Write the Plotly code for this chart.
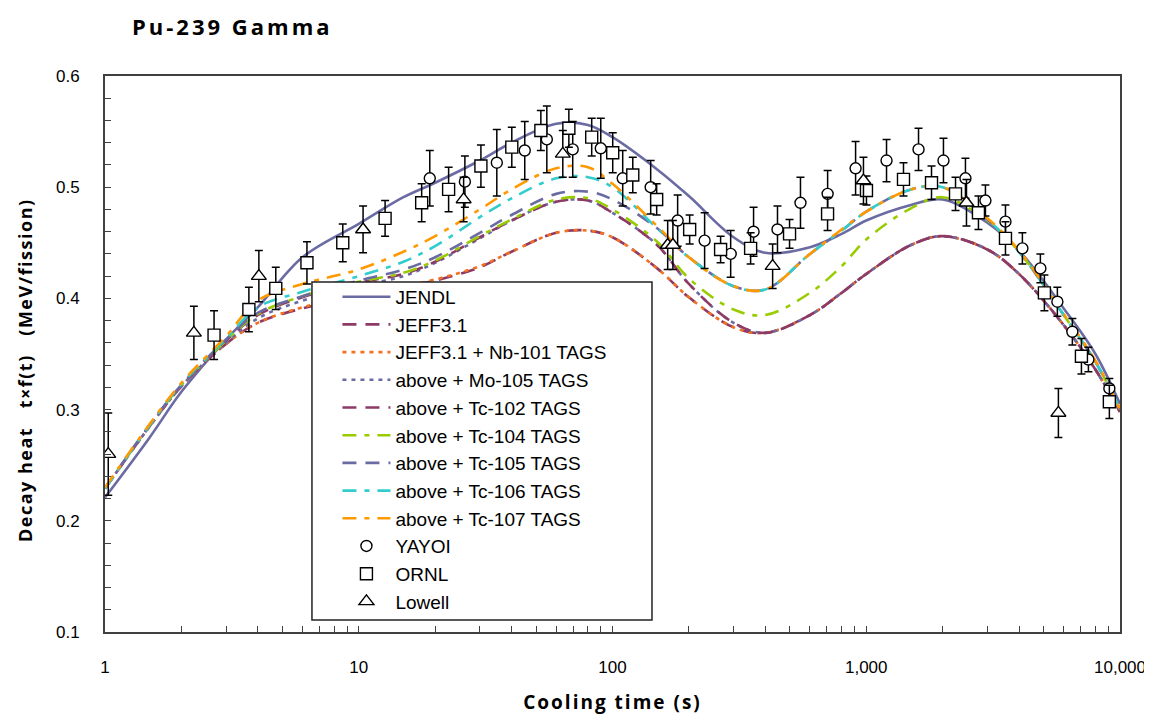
import plotly.graph_objects as go

# ---------------- data ----------------
t_grid = [1, 1.5, 2, 3, 4, 6, 10, 15, 20, 30, 40, 60, 80, 100, 150, 200, 300,
          400, 600, 800, 1000, 1500, 2000, 3000, 4000, 6000, 8000, 10000]

jendl = [0.221, 0.275, 0.316, 0.363, 0.392, 0.437, 0.467, 0.491, 0.504, 0.524,
         0.540, 0.557, 0.556, 0.545, 0.516, 0.492, 0.455, 0.441, 0.446, 0.458,
         0.470, 0.484, 0.489, 0.468, 0.443, 0.391, 0.350, 0.305]
jeff31 = [0.229, 0.285, 0.321, 0.359, 0.378, 0.391, 0.402, 0.410, 0.416, 0.428,
          0.442, 0.459, 0.461, 0.455, 0.427, 0.401, 0.374, 0.369, 0.385, 0.405,
          0.422, 0.448, 0.456, 0.444, 0.422, 0.376, 0.336, 0.298]
nb101 = [0.229, 0.285, 0.321, 0.359, 0.378, 0.392, 0.403, 0.411, 0.417, 0.429,
         0.442, 0.459, 0.461, 0.455, 0.427, 0.401, 0.374, 0.369, 0.385, 0.405,
         0.422, 0.448, 0.456, 0.444, 0.422, 0.376, 0.336, 0.298]
mo105 = [0.229, 0.285, 0.321, 0.360, 0.382, 0.398, 0.411, 0.420, 0.432, 0.454,
         0.470, 0.487, 0.488, 0.477, 0.448, 0.413, 0.378, 0.369, 0.385, 0.405,
         0.422, 0.448, 0.456, 0.444, 0.422, 0.376, 0.336, 0.298]
tc102 = [0.229, 0.286, 0.322, 0.362, 0.385, 0.401, 0.414, 0.422, 0.433, 0.455,
         0.470, 0.487, 0.488, 0.477, 0.448, 0.413, 0.378, 0.369, 0.385, 0.405,
         0.422, 0.448, 0.456, 0.444, 0.422, 0.376, 0.336, 0.298]
tc104 = [0.229, 0.286, 0.322, 0.362, 0.386, 0.402, 0.415, 0.423, 0.434, 0.456,
         0.471, 0.489, 0.490, 0.480, 0.451, 0.418, 0.390, 0.385, 0.405, 0.429,
         0.453, 0.481, 0.491, 0.470, 0.442, 0.385, 0.343, 0.300]
tc105 = [0.229, 0.286, 0.322, 0.363, 0.387, 0.402, 0.416, 0.426, 0.437, 0.459,
         0.475, 0.494, 0.496, 0.489, 0.463, 0.437, 0.411, 0.408, 0.440, 0.461,
         0.478, 0.498, 0.500, 0.471, 0.442, 0.385, 0.343, 0.300]
tc106 = [0.229, 0.286, 0.323, 0.364, 0.392, 0.406, 0.420, 0.433, 0.447, 0.473,
         0.490, 0.508, 0.509, 0.500, 0.463, 0.437, 0.411, 0.408, 0.440, 0.461,
         0.478, 0.498, 0.500, 0.471, 0.442, 0.385, 0.343, 0.300]
tc107 = [0.230, 0.287, 0.324, 0.366, 0.398, 0.413, 0.426, 0.442, 0.456, 0.480,
         0.498, 0.517, 0.518, 0.503, 0.465, 0.437, 0.411, 0.408, 0.440, 0.462,
         0.478, 0.498, 0.500, 0.472, 0.443, 0.386, 0.344, 0.300]

yayoi_t = [19.05, 26.2, 35.0, 45.1, 55.1, 69.7, 89.9, 109.7, 141.4, 180.6, 230.7,
           292.2, 359.7, 446.9, 550.5, 704.3, 907.8, 1202, 1607, 2015, 2460,
           2949, 3537, 4124, 4855, 5665, 6490, 7508, 9080]
yayoi_v = [0.508, 0.505, 0.522, 0.533, 0.543, 0.534, 0.535, 0.508, 0.500, 0.470,
           0.452, 0.440, 0.460, 0.462, 0.486, 0.494, 0.517, 0.524, 0.534, 0.524,
           0.508, 0.488, 0.469, 0.445, 0.427, 0.397, 0.370, 0.345, 0.319]
yayoi_e = [0.025, 0.023, 0.030, 0.026, 0.030, 0.025, 0.027, 0.025, 0.024, 0.023,
           0.025, 0.021, 0.022, 0.021, 0.023, 0.021, 0.024, 0.019, 0.019, 0.020,
           0.018, 0.014, 0.015, 0.014, 0.013, 0.013, 0.012, 0.011, 0.009]

ornl_t = [2.69, 3.69, 4.71, 6.25, 8.65, 12.7, 17.7, 22.6, 30.3, 40.1, 52.2, 67.3,
          82.8, 100.2, 120.2, 149.3, 201.4, 266.7, 350.2, 498.6, 704, 1002,
          1402, 1808, 2248, 2768, 3537, 5036, 7047, 9080]
ornl_v = [0.367, 0.390, 0.409, 0.432, 0.450, 0.472, 0.486, 0.498, 0.519, 0.536,
          0.551, 0.553, 0.545, 0.531, 0.511, 0.489, 0.462, 0.444, 0.445, 0.458,
          0.476, 0.497, 0.507, 0.504, 0.494, 0.477, 0.454, 0.405, 0.348, 0.307]
ornl_e = [0.022, 0.020, 0.019, 0.019, 0.017, 0.016, 0.017, 0.020, 0.019, 0.018,
          0.018, 0.017, 0.017, 0.018, 0.016, 0.014, 0.013, 0.012, 0.014, 0.013,
          0.015, 0.013, 0.015, 0.015, 0.015, 0.015, 0.015, 0.016, 0.016, 0.015]

lowell_t = [1.03, 2.24, 4.04, 10.4, 25.9, 63.7, 165, 173, 427.6, 975, 2483, 5718]
lowell_v = [0.260, 0.369, 0.420, 0.462, 0.489, 0.530, 0.448, 0.448, 0.429, 0.506,
            0.486, 0.297]
lowell_e = [0.037, 0.024, 0.023, 0.021, 0.020, 0.021, 0.022, 0.022, 0.020, 0.021,
            0.021, 0.022]

x_tickvals = [1, 10, 100, 1000, 10000]
x_ticktext = ["1", "10", "100", "1,000", "10,000"]

# ---------------- styles ----------------
SLATE = "#6B6BA3"
MAROON = "#8E3A66"
ORANGE_RED = "#F2701F"
GREEN = "#99CC00"
CYAN = "#33CCCC"
ORANGE = "#FF9900"

curves = [
    ("JENDL", jendl, SLATE, "solid"),
    ("JEFF3.1", jeff31, MAROON, "14px,9px"),
    ("JEFF3.1 + Nb-101 TAGS", nb101, ORANGE_RED, "4px,5px"),
    ("above + Mo-105 TAGS", mo105, SLATE, "4px,5px"),
    ("above + Tc-102 TAGS", tc102, MAROON, "14px,9px"),
    ("above + Tc-104 TAGS", tc104, GREEN, "14px,8px,5px,8px"),
    ("above + Tc-105 TAGS", tc105, SLATE, "14px,9px"),
    ("above + Tc-106 TAGS", tc106, CYAN, "14px,8px,5px,8px"),
    ("above + Tc-107 TAGS", tc107, ORANGE, "14px,8px,5px,8px"),
]

fig = go.Figure()
for name, vals, col, dash in curves:
    fig.add_trace(go.Scatter(
        x=t_grid, y=vals, name=name, mode="lines",
        line=dict(color=col, width=2.6, dash=dash, shape="spline", smoothing=1.0),
    ))

marker_sets = [
    ("YAYOI", yayoi_t, yayoi_v, yayoi_e, "circle", 11),
    ("ORNL", ornl_t, ornl_v, ornl_e, "square", 12),
    ("Lowell", lowell_t, lowell_v, lowell_e, "triangle-up", 13),
]
for name, xs, ys, es, sym, sz in marker_sets:
    fig.add_trace(go.Scatter(
        x=xs, y=ys, name=name, mode="markers",
        marker=dict(symbol=sym, size=sz, color="white",
                    line=dict(color="black", width=1.4)),
        error_y=dict(type="data", array=es, color="black", thickness=1.5, width=4),
    ))

# legend box as a shape
fig.add_shape(type="rect", xref="paper", yref="paper",
              x0=0.2039, x1=0.5389, y0=0.0216, y1=0.6295,
              fillcolor="white", line=dict(color="#222222", width=1.5),
              layer="above")

# y-axis title placed as a rotated annotation (slightly below plot centre)
fig.add_annotation(
    text="<b><span style='letter-spacing:1.5px'>Decay heat   t×f(t)   (MeV/fission)</span></b>",
    xref="paper", yref="paper", x=(25 - 105) / 1015, y=(632 - 370) / 556,
    xanchor="center", yanchor="middle", textangle=-90, showarrow=False,
    font=dict(family="Open Sans", size=18, color="black"),
)

# the page adds an 8 px body margin: figure offset by 8 px
W, H = 1144, 707
fig.update_layout(
    width=W, height=H,
    paper_bgcolor="white", plot_bgcolor="white",
    margin=dict(l=97, r=32, t=68, b=83, autoexpand=False),
    title=dict(text="<b><span style='letter-spacing:3px'>Pu-239 Gamma</span></b>",
               x=124 / W, xanchor="left",
               y=1 - 19 / H, yanchor="middle", automargin=False,
               font=dict(family="Open Sans", size=22, color="black")),
    showlegend=True,
    legend=dict(x=0.229, y=0.637, xanchor="left", yanchor="top",
                bgcolor="rgba(0,0,0,0)", borderwidth=0,
                font=dict(family="Liberation Sans", size=19, color="black"),
                itemwidth=48, tracegroupgap=0),
    font=dict(family="Liberation Sans", color="black"),
)

fig.update_xaxes(
    type="log", range=[0, 4], automargin=False,
    tickmode="array", tickvals=x_tickvals, ticktext=x_ticktext,
    ticks="inside", ticklen=6, tickcolor="#404040", tickwidth=1.2,
    ticklabelstandoff=19, ticklabeloverflow="allow",
    tickfont=dict(family="Liberation Sans", size=17, color="black"),
    minor=dict(tickmode="array",
               tickvals=[m * 10 ** d for d in range(4) for m in range(2, 10)],
               ticks="inside", ticklen=6, tickcolor="#404040", tickwidth=1.2,
               showgrid=False),
    showline=True, linecolor="#404040", linewidth=2, mirror=True,
    showgrid=False, zeroline=False,
    title=dict(text="<b><span style='letter-spacing:2px'>Cooling time (s)</span></b>",
               standoff=26,
               font=dict(family="Open Sans", size=19, color="black")),
)
fig.update_yaxes(
    range=[0.1, 0.6], dtick=0.1, tick0=0.1, tickformat=".1f", automargin=False,
    ticks="inside", ticklen=6, tickcolor="#404040", tickwidth=1.2,
    ticklabelstandoff=20,
    tickfont=dict(family="Liberation Sans", size=17, color="black"),
    minor=dict(dtick=0.02, ticks="inside", ticklen=6, tickcolor="#404040",
               tickwidth=1.2, showgrid=False),
    showline=True, linecolor="#404040", linewidth=2, mirror=True,
    showgrid=False, zeroline=False,
)

fig.write_html("out.html")
